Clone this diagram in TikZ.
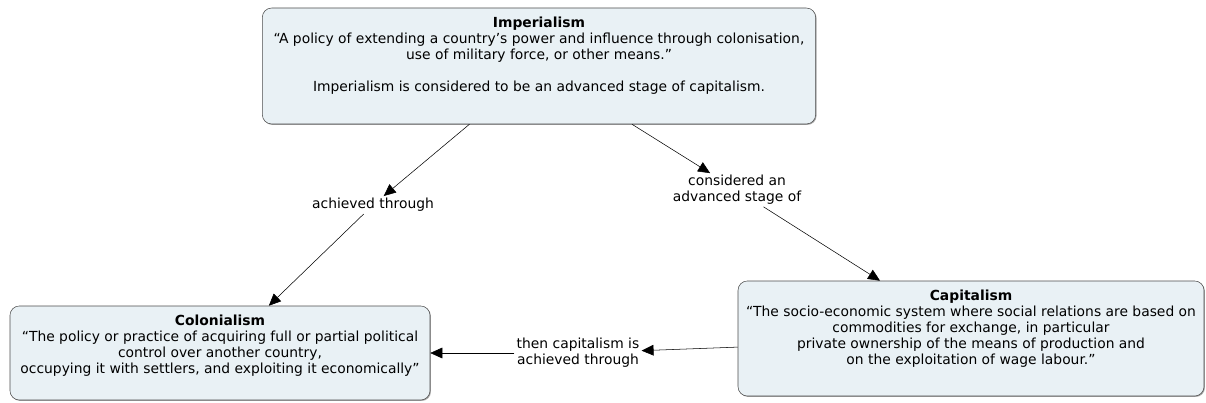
\documentclass[tikz,border=0pt]{standalone}
\usepackage{fontspec}
\setmainfont{DejaVu Sans}
\usetikzlibrary{positioning,arrows.meta,shadows}

\definecolor{boxfill}{HTML}{E9F1F5}
\newcommand{\conceptbody}[3]{\parbox[t][#2][t]{#1}{\centering\vspace*{7pt}#3}}

\tikzset{
  concept/.style={draw=black!70, fill=boxfill, rounded corners=7pt, inner sep=0pt,
    font=\fontsize{10.4}{12}\selectfont,
    drop shadow={shadow xshift=0.7pt, shadow yshift=-0.7pt, fill=black!50, opacity=0.7}},
  linkword/.style={align=center, inner sep=1.5pt, font=\fontsize{10.4}{11.8}\selectfont},
}

\begin{document}
\begin{tikzpicture}[>={Triangle[length=9pt,width=8pt]}, x=0.75pt, y=-0.75pt]
    \useasboundingbox (0,0) rectangle (1206,403);
    \path
    % concepts
    (539,66)    node[concept] (imp) {\conceptbody{415pt}{87pt}{\textbf{Imperialism}\\
        “A policy of extending a country's power and influence through colonisation,\\
        use of military force, or other means.”\\[12pt]
        Imperialism is considered to be an advanced stage of capitalism.}}
    (220,353)   node[concept] (col) {\conceptbody{315pt}{70.5pt}{\textbf{Colonialism}\\
        “The policy or practice of acquiring full or partial political\\
        control over another country,\\
        occupying it with settlers, and exploiting it economically”}}
    (971,338.5) node[concept] (cap) {\conceptbody{349.5pt}{86.25pt}{\textbf{Capitalism}\\
        “The socio-economic system where social relations are based on\\
        commodities for exchange, in particular\\
        private ownership of the means of production and\\
        on the exploitation of wage labour.”}}
    % linking words
    (373,205)   node[linkword] (ach)  {achieved through}
    (737,190)   node[linkword] (adv)  {considered an\\advanced stage of}
    (578,353)   node[linkword] (then) {then capitalism is\\achieved through};

    \draw[->] (imp)--(ach);
    \draw[->] (ach)--(col);

    \draw[->] (imp)--(adv);
    \draw[->] (adv)--(cap);

    \draw[->] (cap)--(then);
    \draw[->] (then)--(col);
\end{tikzpicture}
\end{document}
